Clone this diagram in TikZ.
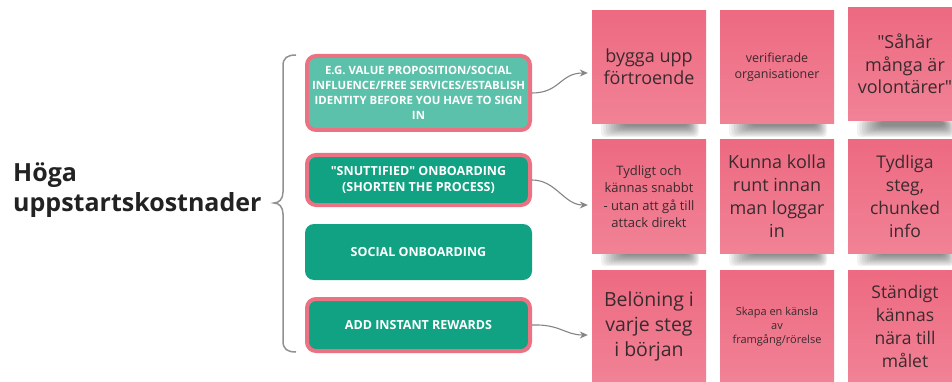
\documentclass[tikz,border=0pt]{standalone}
\usepackage{fontspec}
\setmainfont{Open Sans}
\usetikzlibrary{arrows.meta,calc}

\definecolor{darkgreen}{HTML}{11A283}
\definecolor{lightteal}{HTML}{5CC1AA}
\definecolor{rim}{HTML}{EA7283}
\definecolor{notetop}{HTML}{ED6A81}
\definecolor{notebot}{HTML}{F18296}
\definecolor{ink}{HTML}{3A2A2D}
\definecolor{linkgray}{HTML}{858585}
\definecolor{title}{HTML}{222222}

\begin{document}
\begin{tikzpicture}[x=1pt,y=-1pt,
  idea/.style={rounded corners=9pt, fill=darkgreen, text=white,
    font=\fontsize{12.5}{16.5}\selectfont\bfseries, align=center,
    minimum width=223pt, inner sep=0pt},
  hot/.style={draw=rim, line width=4pt},
  note/.style={minimum width=114pt, minimum height=113pt, inner sep=0pt,
    top color=notetop, bottom color=notebot, text=ink, align=center},
  big/.style={font=\fontsize{18}{22.5}\selectfont},
  link/.style={draw=linkgray, line width=1.1pt, -{Stealth[length=8pt,width=7pt]}},
  brace/.style={draw=linkgray!90, line width=1.5pt}]

\useasboundingbox (0,0) rectangle (952,382);
\clip (0,0) rectangle (952,382);
\fill[white] (0,0) rectangle (952,382);

% heading
\node[anchor=west, inner sep=0pt, align=left, text=title,
  font=\fontsize{25}{30}\selectfont\bfseries] (head) at (13,190)
  {Höga\\uppstartskostnader};

% curly brace grouping the four ideas
\coordinate (btop) at (296,55);
\coordinate (bbot) at (296,352);
\coordinate (btip) at (274,203);
\draw[brace] (btop) .. controls (287,55) and (283,58) .. (283,66) -- (283,192)
  .. controls (283,199) and (279,203) .. (btip)
  .. controls (279,203) and (283,207) .. (283,214) -- (283,341)
  .. controls (283,349) and (287,352) .. (bbot);

% ideas
\node[idea, hot, fill=lightteal, minimum height=74pt,
  font=\fontsize{11.4}{15}\selectfont\bfseries] (b1) at (418.5,93)
  {E.G. VALUE PROPOSITION/SOCIAL\\INFLUENCE/FREE SERVICES/ESTABLISH\\IDENTITY BEFORE YOU HAVE TO SIGN\\IN};
\node[idea, hot, minimum height=50pt] (b2) at (418.5,180)
  {\textquotedbl SNUTTIFIED\textquotedbl{} ONBOARDING\\(SHORTEN THE PROCESS)};
\node[idea, minimum height=56pt, minimum width=227pt] (b3) at (418.5,252)
  {SOCIAL ONBOARDING};
\node[idea, hot, minimum height=52pt] (b4) at (418.5,325)
  {ADD INSTANT REWARDS};

% soft shadows under the sticky notes
\foreach \cx/\by in {649/124,777/124,905/124,649/253,777/253,905/253} {
  \foreach \k in {0,...,9}
    \fill[black, opacity=0.055, rounded corners=4pt]
      (\cx-48+2.5*\k, \by-3) rectangle (\cx+50-1.2*\k, \by+13-1.2*\k);
}

% sticky notes
\node[note, big] (n11) at (649,67) {bygga upp\\förtroende};
\node[note, font=\fontsize{12.5}{15.5}\selectfont] (n12) at (777,67) {verifierade\\organisationer};
\node[note, big] (n13) at (905,64) {\textquotedbl Såhär\\många är\\volontärer\textquotedbl};

\node[note, font=\fontsize{13}{17.5}\selectfont] (n21) at (649,196.5)
  {Tydligt och\\kännas snabbt\\- utan att gå till\\attack direkt};
\node[note, big, font=\fontsize{18}{23}\selectfont] (n22) at (777,196.5)
  {Kunna kolla\\runt innan\\man loggar\\in};
\node[note, font=\fontsize{17.5}{23}\selectfont] (n23) at (905,196.5)
  {Tydliga\\steg,\\chunked\\info};

\node[note, font=\fontsize{19.5}{25}\selectfont] (n31) at (649,326.5)
  {Belöning i\\varje steg\\i början};
\node[note, font=\fontsize{11}{14}\selectfont] (n32) at (777,326.5)
  {Skapa en känsla\\av\\framgång/rörelse};
\node[note, font=\fontsize{17.5}{23}\selectfont] (n33) at (905,326.5)
  {Ständigt\\kännas\\nära till\\målet};

% connectors from ideas to their notes
\draw[link] (b1.east) .. controls (560,93) and (560,73) .. ($(n11.west)+(-4,6)$);
\draw[link] (b2.east) .. controls (556,180) and (564,205) .. ($(n21.west)+(-4,8.5)$);
\draw[link] (b4.east) .. controls (560,324) and (565,335) .. ($(n31.west)+(-4,8.5)$);
\end{tikzpicture}
\end{document}
